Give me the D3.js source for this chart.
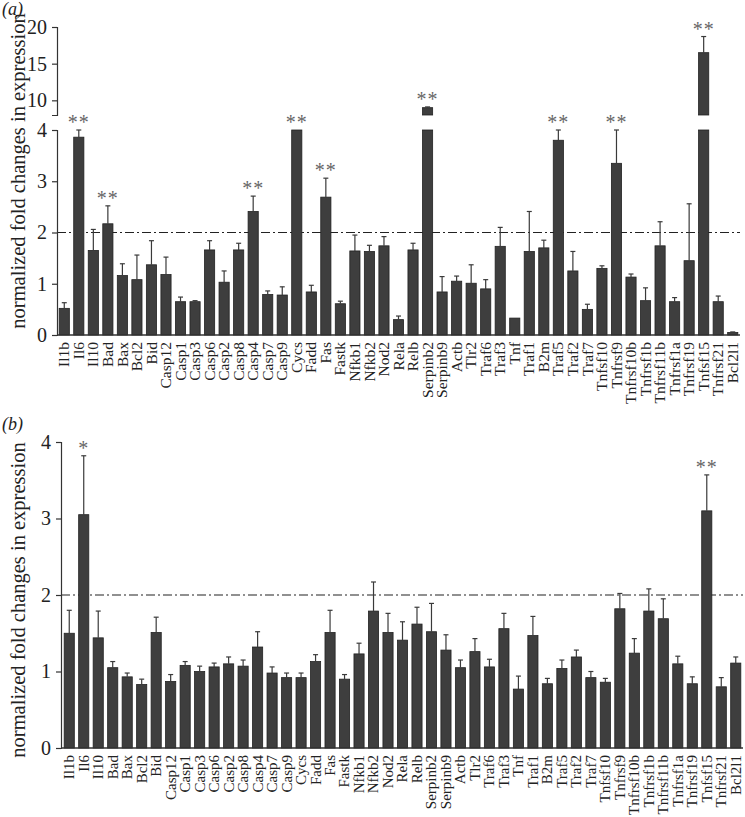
<!DOCTYPE html>
<html>
<head>
<meta charset="utf-8">
<script src="https://cdn.jsdelivr.net/npm/d3@7"></script>
<style>
  html, body { margin: 0; padding: 0; background: #fff; }
  svg { display: block; font-family: "Liberation Serif", "DejaVu Serif", serif; }
</style>
</head>
<body>
<svg id="chart" width="745" height="817"></svg>
<script>
// ---------- data ----------
const genes = ["Il1b","Il6","Il10","Bad","Bax","Bcl2","Bid","Casp12","Casp1","Casp3","Casp6","Casp2","Casp8","Casp4","Casp7","Casp9","Cycs","Fadd","Fas","Fastk","Nfkb1","Nfkb2","Nod2","Rela","Relb","Serpinb2","Serpinb9","Actb","Tlr2","Traf6","Traf3","Tnf","Traf1","B2m","Traf5","Traf2","Traf7","Tnfsf10","Tnfrsf9","Tnfrsf10b","Tnfrsf1b","Tnfrsf11b","Tnfrsf1a","Tnfrsf19","Tnfsf15","Tnfrsf21","Bcl2l1"];

// panel (a) means and error (upper SE)
const valuesA = [0.52,3.86,1.65,2.17,1.16,1.08,1.37,1.18,0.65,0.65,1.66,1.03,1.66,2.41,0.79,0.78,5.2,0.84,2.69,0.61,1.64,1.63,1.74,0.30,1.66,9.0,0.84,1.05,1.01,0.90,1.73,0.33,1.63,1.70,3.80,1.25,0.50,1.30,3.35,1.13,0.67,1.74,0.65,1.45,16.5,0.65,0.05];
const errorsA = [0.11,0.14,0.41,0.35,0.23,0.48,0.47,0.34,0.09,0.02,0.18,0.22,0.13,0.30,0.07,0.16,0,0.13,0.37,0.05,0.31,0.12,0.18,0.07,0.13,0.1,0.30,0.10,0.36,0.18,0.37,0,0.78,0.15,0.20,0.38,0.10,0.05,0.65,0.06,0.25,0.47,0.08,1.11,2.2,0.11,0.01];
const starsA = ["","**","","**","","","","","","","","","","**","","","**","","**","","","","","","","**","","","","","","","","","**","","","","**","","","","","","**","",""];

// panel (b)
const valuesB = [1.50,3.05,1.44,1.05,0.93,0.83,1.51,0.87,1.08,1.00,1.06,1.10,1.07,1.32,0.98,0.92,0.92,1.13,1.51,0.90,1.23,1.79,1.51,1.41,1.62,1.52,1.28,1.05,1.26,1.06,1.56,0.77,1.47,0.84,1.04,1.19,0.92,0.86,1.82,1.24,1.79,1.69,1.10,0.84,3.10,0.80,1.11];
const errorsB = [0.30,0.77,0.35,0.08,0.05,0.07,0.20,0.09,0.05,0.07,0.05,0.09,0.08,0.20,0.08,0.06,0.06,0.09,0.29,0.06,0.14,0.38,0.25,0.24,0.22,0.37,0.20,0.10,0.17,0.10,0.20,0.17,0.25,0.07,0.11,0.09,0.08,0.05,0.20,0.19,0.29,0.26,0.10,0.09,0.47,0.12,0.08];
const starsB = ["","*","","","","","","","","","","","","","","","","","","","","","","","","","","","","","","","","","","","","","","","","","","","**","",""];

const ticksLowA = [0,1,2,3,4];
const ticksHighA = [10,15,20];
const ticksB = [0,1,2,3,4];
const threshold = 2;
const yTitle = "normalized fold changes in expression";

// ---------- drawing ----------
const svg = d3.select("#chart");
const barFill = "#3e3e3e", barStroke = "#222", errColor = "#3a3a3a", starColor = "#666";

function styleAxis(g) {
  g.selectAll("path.domain").attr("stroke", "#333").attr("stroke-width", 1.2);
  g.selectAll(".tick line").attr("stroke", "#333").attr("stroke-width", 1.2);
  g.selectAll(".tick text").attr("font-family", "Liberation Serif").attr("font-size", 20).attr("fill", "#222");
}

function drawPanel(opts) {
  const { x, yLow, yHigh, values, errors, stars, label, labelY, axisY, titleY, yAxisX, lowTicks, highTicks, xEnd, labelSize } = opts;
  const cap = yHigh ? yHigh.domain()[0] : null;
  const lowMax = yLow.domain()[1];
  const bw = x.bandwidth() * 0.7;
  const data = genes.map((g, i) => ({ g, v: values[i], e: errors[i], s: stars[i] }));

  // threshold line
  svg.append("line")
    .attr("x1", yAxisX).attr("x2", xEnd)
    .attr("y1", yLow(threshold)).attr("y2", yLow(threshold))
    .attr("stroke", "#222").attr("stroke-width", 1.2)
    .attr("stroke-dasharray", "9,3,2,3");

  const bars = svg.append("g");
  data.forEach(d => {
    const cx = x(d.g) + x.bandwidth() / 2;
    const vLow = Math.min(d.v, lowMax);
    bars.append("rect")
      .attr("x", cx - bw / 2).attr("width", bw)
      .attr("y", yLow(vLow)).attr("height", yLow(0) - yLow(vLow))
      .attr("fill", barFill).attr("stroke", barStroke).attr("stroke-width", 0.8);
    let topY;
    if (yHigh && d.v > cap) {
      bars.append("rect")
        .attr("x", cx - bw / 2).attr("width", bw)
        .attr("y", yHigh(d.v)).attr("height", yHigh(cap) - yHigh(d.v))
        .attr("fill", barFill).attr("stroke", barStroke).attr("stroke-width", 0.8);
      const et = yHigh(d.v + d.e);
      if (d.e > 0) {
        bars.append("line").attr("x1", cx).attr("x2", cx).attr("y1", yHigh(d.v)).attr("y2", et)
          .attr("stroke", errColor).attr("stroke-width", 1.2);
        bars.append("line").attr("x1", cx - 2.5).attr("x2", cx + 2.5).attr("y1", et).attr("y2", et)
          .attr("stroke", errColor).attr("stroke-width", 1.2);
      }
      topY = et;
    } else if (d.v >= lowMax) {
      topY = yLow(lowMax);
    } else {
      const et = yLow(Math.min(d.v + d.e, lowMax));
      if (d.e > 0) {
        bars.append("line").attr("x1", cx).attr("x2", cx).attr("y1", yLow(d.v)).attr("y2", et)
          .attr("stroke", errColor).attr("stroke-width", 1.2);
        bars.append("line").attr("x1", cx - 2.5).attr("x2", cx + 2.5).attr("y1", et).attr("y2", et)
          .attr("stroke", errColor).attr("stroke-width", 1.2);
      }
      topY = et;
    }
    if (d.s) {
      bars.append("text")
        .attr("x", cx).attr("y", topY - 1)
        .attr("text-anchor", "middle")
        .attr("font-family", "Liberation Serif").attr("font-size", 20)
        .attr("letter-spacing", 1)
        .attr("fill", starColor)
        .text(d.s);
    }
  });

  // x axis baseline
  svg.append("line")
    .attr("x1", yAxisX).attr("x2", xEnd)
    .attr("y1", yLow(0)).attr("y2", yLow(0))
    .attr("stroke", "#333").attr("stroke-width", 1.6);

  // x labels
  const lg = svg.append("g");
  genes.forEach(g => {
    const cx = x(g) + x.bandwidth() / 2;
    lg.append("text")
      .attr("transform", `translate(${cx},${axisY}) rotate(-90)`)
      .attr("text-anchor", "end").attr("dy", "0.33em")
      .attr("font-family", "Liberation Serif").attr("font-size", labelSize)
      .attr("fill", "#222")
      .text(g);
  });

  // y axes
  const gLow = svg.append("g").attr("transform", `translate(${yAxisX},0)`)
    .call(d3.axisLeft(yLow).tickValues(lowTicks).tickFormat(d3.format("d")).tickSize(5).tickPadding(5));
  styleAxis(gLow);
  if (yHigh) {
    const gHigh = svg.append("g").attr("transform", `translate(${yAxisX},0)`)
      .call(d3.axisLeft(yHigh).tickValues(highTicks).tickFormat(d3.format("d")).tickSize(5).tickPadding(5));
    styleAxis(gHigh);
  }

  // y title
  svg.append("text")
    .attr("transform", `translate(25,${titleY}) rotate(-90)`)
    .attr("text-anchor", "middle")
    .attr("font-family", "Liberation Serif").attr("font-size", 20.5)
    .attr("fill", "#222")
    .text(yTitle);

  // panel label
  svg.append("text")
    .attr("x", 2).attr("y", labelY)
    .attr("font-family", "Liberation Serif").attr("font-size", 18)
    .attr("font-style", "italic").attr("fill", "#222")
    .text(label);
}

// panel (a)
const xA = d3.scaleBand().domain(genes).range([57, 740]);
const yLowA = d3.scaleLinear().domain([0, 4]).range([335, 130]);
const yHighA = d3.scaleLinear().domain([8, 20]).range([115, 27]);
drawPanel({ x: xA, yLow: yLowA, yHigh: yHighA, values: valuesA, errors: errorsA, stars: starsA,
  label: "(a)", labelY: 15, axisY: 342, titleY: 171, yAxisX: 57, lowTicks: ticksLowA, highTicks: ticksHighA, xEnd: 740, labelSize: 15.5 });

// panel (b)
const xB = d3.scaleBand().domain(genes).range([62, 743]);
const yB = d3.scaleLinear().domain([0, 4]).range([748, 442]);
drawPanel({ x: xB, yLow: yB, yHigh: null, values: valuesB, errors: errorsB, stars: starsB,
  label: "(b)", labelY: 430, axisY: 755, titleY: 600, yAxisX: 61, lowTicks: ticksB, highTicks: null, xEnd: 743, labelSize: 15 });
</script>
</body>
</html>
